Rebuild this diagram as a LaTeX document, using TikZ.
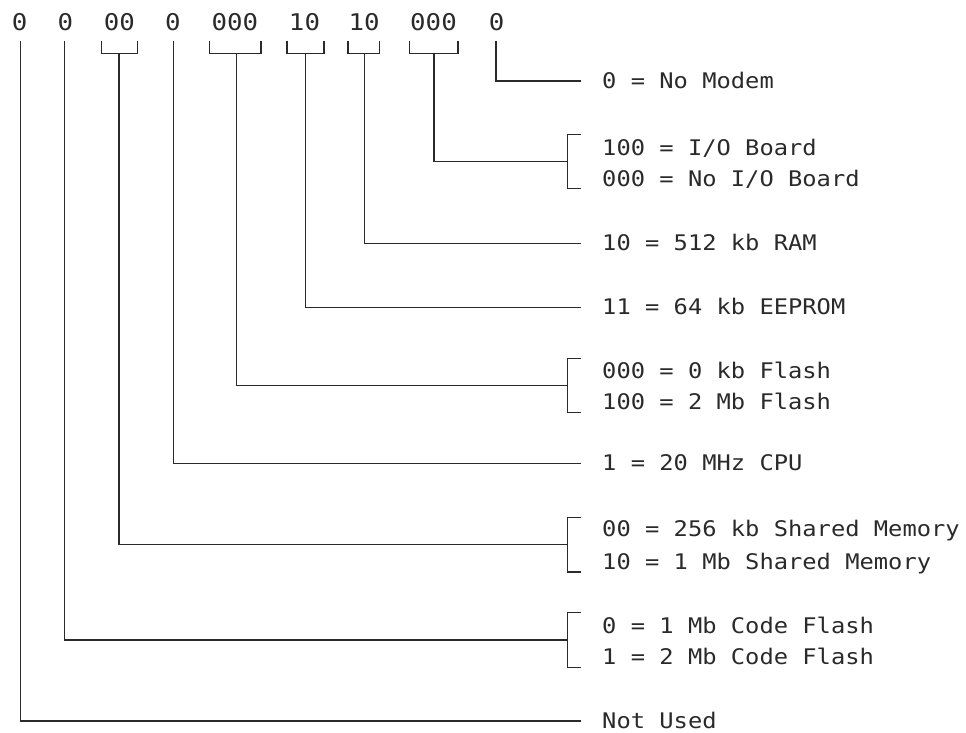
\documentclass[tikz,border=0pt]{standalone}
\usepackage{fontspec}
\newfontfamily\labfont[FakeStretch=1.105]{DejaVu Sans Mono}
\newfontfamily\topfont[FakeStretch=1.12]{DejaVu Sans Mono}
\definecolor{ink}{HTML}{2A2A2A}
\begin{document}
\begin{tikzpicture}[x=1pt,y=-1pt,
  conn/.style={draw=ink,line width=1.5pt},
  digit/.style={anchor=base,inner sep=0pt,text=ink,font=\topfont\fontsize{23}{23}\selectfont},
  lbl/.style={anchor=base west,inner sep=0pt,text=ink,font=\labfont\fontsize{21.5}{21.5}\selectfont}]
\useasboundingbox (0,0) rectangle (966,732);
% top bit groups
\node[digit] (t1) at (19.7,30) {0};
\node[digit] (t2) at (65.5,30) {0};
\node[digit] (t3) at (119.3,30) {00};
\node[digit] (t4) at (172.8,30) {0};
\node[digit] (t5) at (234.8,30) {000};
\node[digit] (t6) at (304.5,30) {10};
\node[digit] (t7) at (364.2,30) {10};
\node[digit] (t8) at (433.5,30) {000};
\node[digit] (t9) at (496.5,30) {0};
% under-brackets of multi-bit groups
\draw[conn] (101.7,40.7) |- (137.3,53.3) -- (137.3,40.7);
\draw[conn] (209.3,40.7) |- (261,53.3) -- (261,40.7);
\draw[conn] (287,40.7) |- (324,53.3) -- (324,40.7);
\draw[conn] (348,40.7) |- (379.3,53.3) -- (379.3,40.7);
\draw[conn] (409.7,40.7) |- (458,53.3) -- (458,40.7);
% stem start points
\coordinate (s1) at (20.7,40.7);
\coordinate (s2) at (64.3,40.7);
\coordinate (s3) at (119,53.3);
\coordinate (s4) at (173.3,40.7);
\coordinate (s5) at (236.3,53.3);
\coordinate (s6) at (305.3,53.3);
\coordinate (s7) at (364.3,53.3);
\coordinate (s8) at (434,53.3);
\coordinate (s9) at (496,40.7);
% end points
\coordinate (e9) at (581,81);
\coordinate (e8) at (567.3,161.5);
\coordinate (e7) at (581,243.3);
\coordinate (e6) at (581,307.3);
\coordinate (e5) at (567.3,385.5);
\coordinate (e4) at (581,463.3);
\coordinate (e3) at (567.3,544.5);
\coordinate (e2) at (567.3,640);
\coordinate (e1) at (581,721);
% connectors
\draw[conn] (s9) |- (e9);
\draw[conn] (s8) |- (e8);
\draw[conn] (s7) |- (e7);
\draw[conn] (s6) |- (e6);
\draw[conn] (s5) |- (e5);
\draw[conn] (s4) |- (e4);
\draw[conn] (s3) |- (e3);
\draw[conn] (s2) |- (e2);
\draw[conn] (s1) |- (e1);
% right brackets
\draw[conn] (581,134.3) -| (567.3,188.7) -- (581,188.7);
\draw[conn] (581,358.3) -| (567.3,412.7) -- (581,412.7);
\draw[conn] (581,517.3) -| (567.3,572) -- (581,572);
\draw[conn] (581,612.7) -| (567.3,667.3) -- (581,667.3);
% labels
\node[lbl] (l9) at (602,88.5) {0 = No Modem};
\node[lbl] (l8a) at (602,155) {100 = I/O Board};
\node[lbl] (l8b) at (602,186.5) {000 = No I/O Board};
\node[lbl] (l7) at (602,250.8) {10 = 512 kb RAM};
\node[lbl] (l6) at (602,314.8) {11 = 64 kb EEPROM};
\node[lbl] (l5a) at (602,378.3) {000 = 0 kb Flash};
\node[lbl] (l5b) at (602,409) {100 = 2 Mb Flash};
\node[lbl] (l4) at (602,470.8) {1 = 20 MHz CPU};
\node[lbl] (l3a) at (602,536.7) {00 = 256 kb Shared Memory};
\node[lbl] (l3b) at (602,569) {10 = 1 Mb Shared Memory};
\node[lbl] (l2a) at (602,633.3) {0 = 1 Mb Code Flash};
\node[lbl] (l2b) at (602,664.5) {1 = 2 Mb Code Flash};
\node[lbl] (l1) at (602,728.5) {Not Used};
\end{tikzpicture}
\end{document}
